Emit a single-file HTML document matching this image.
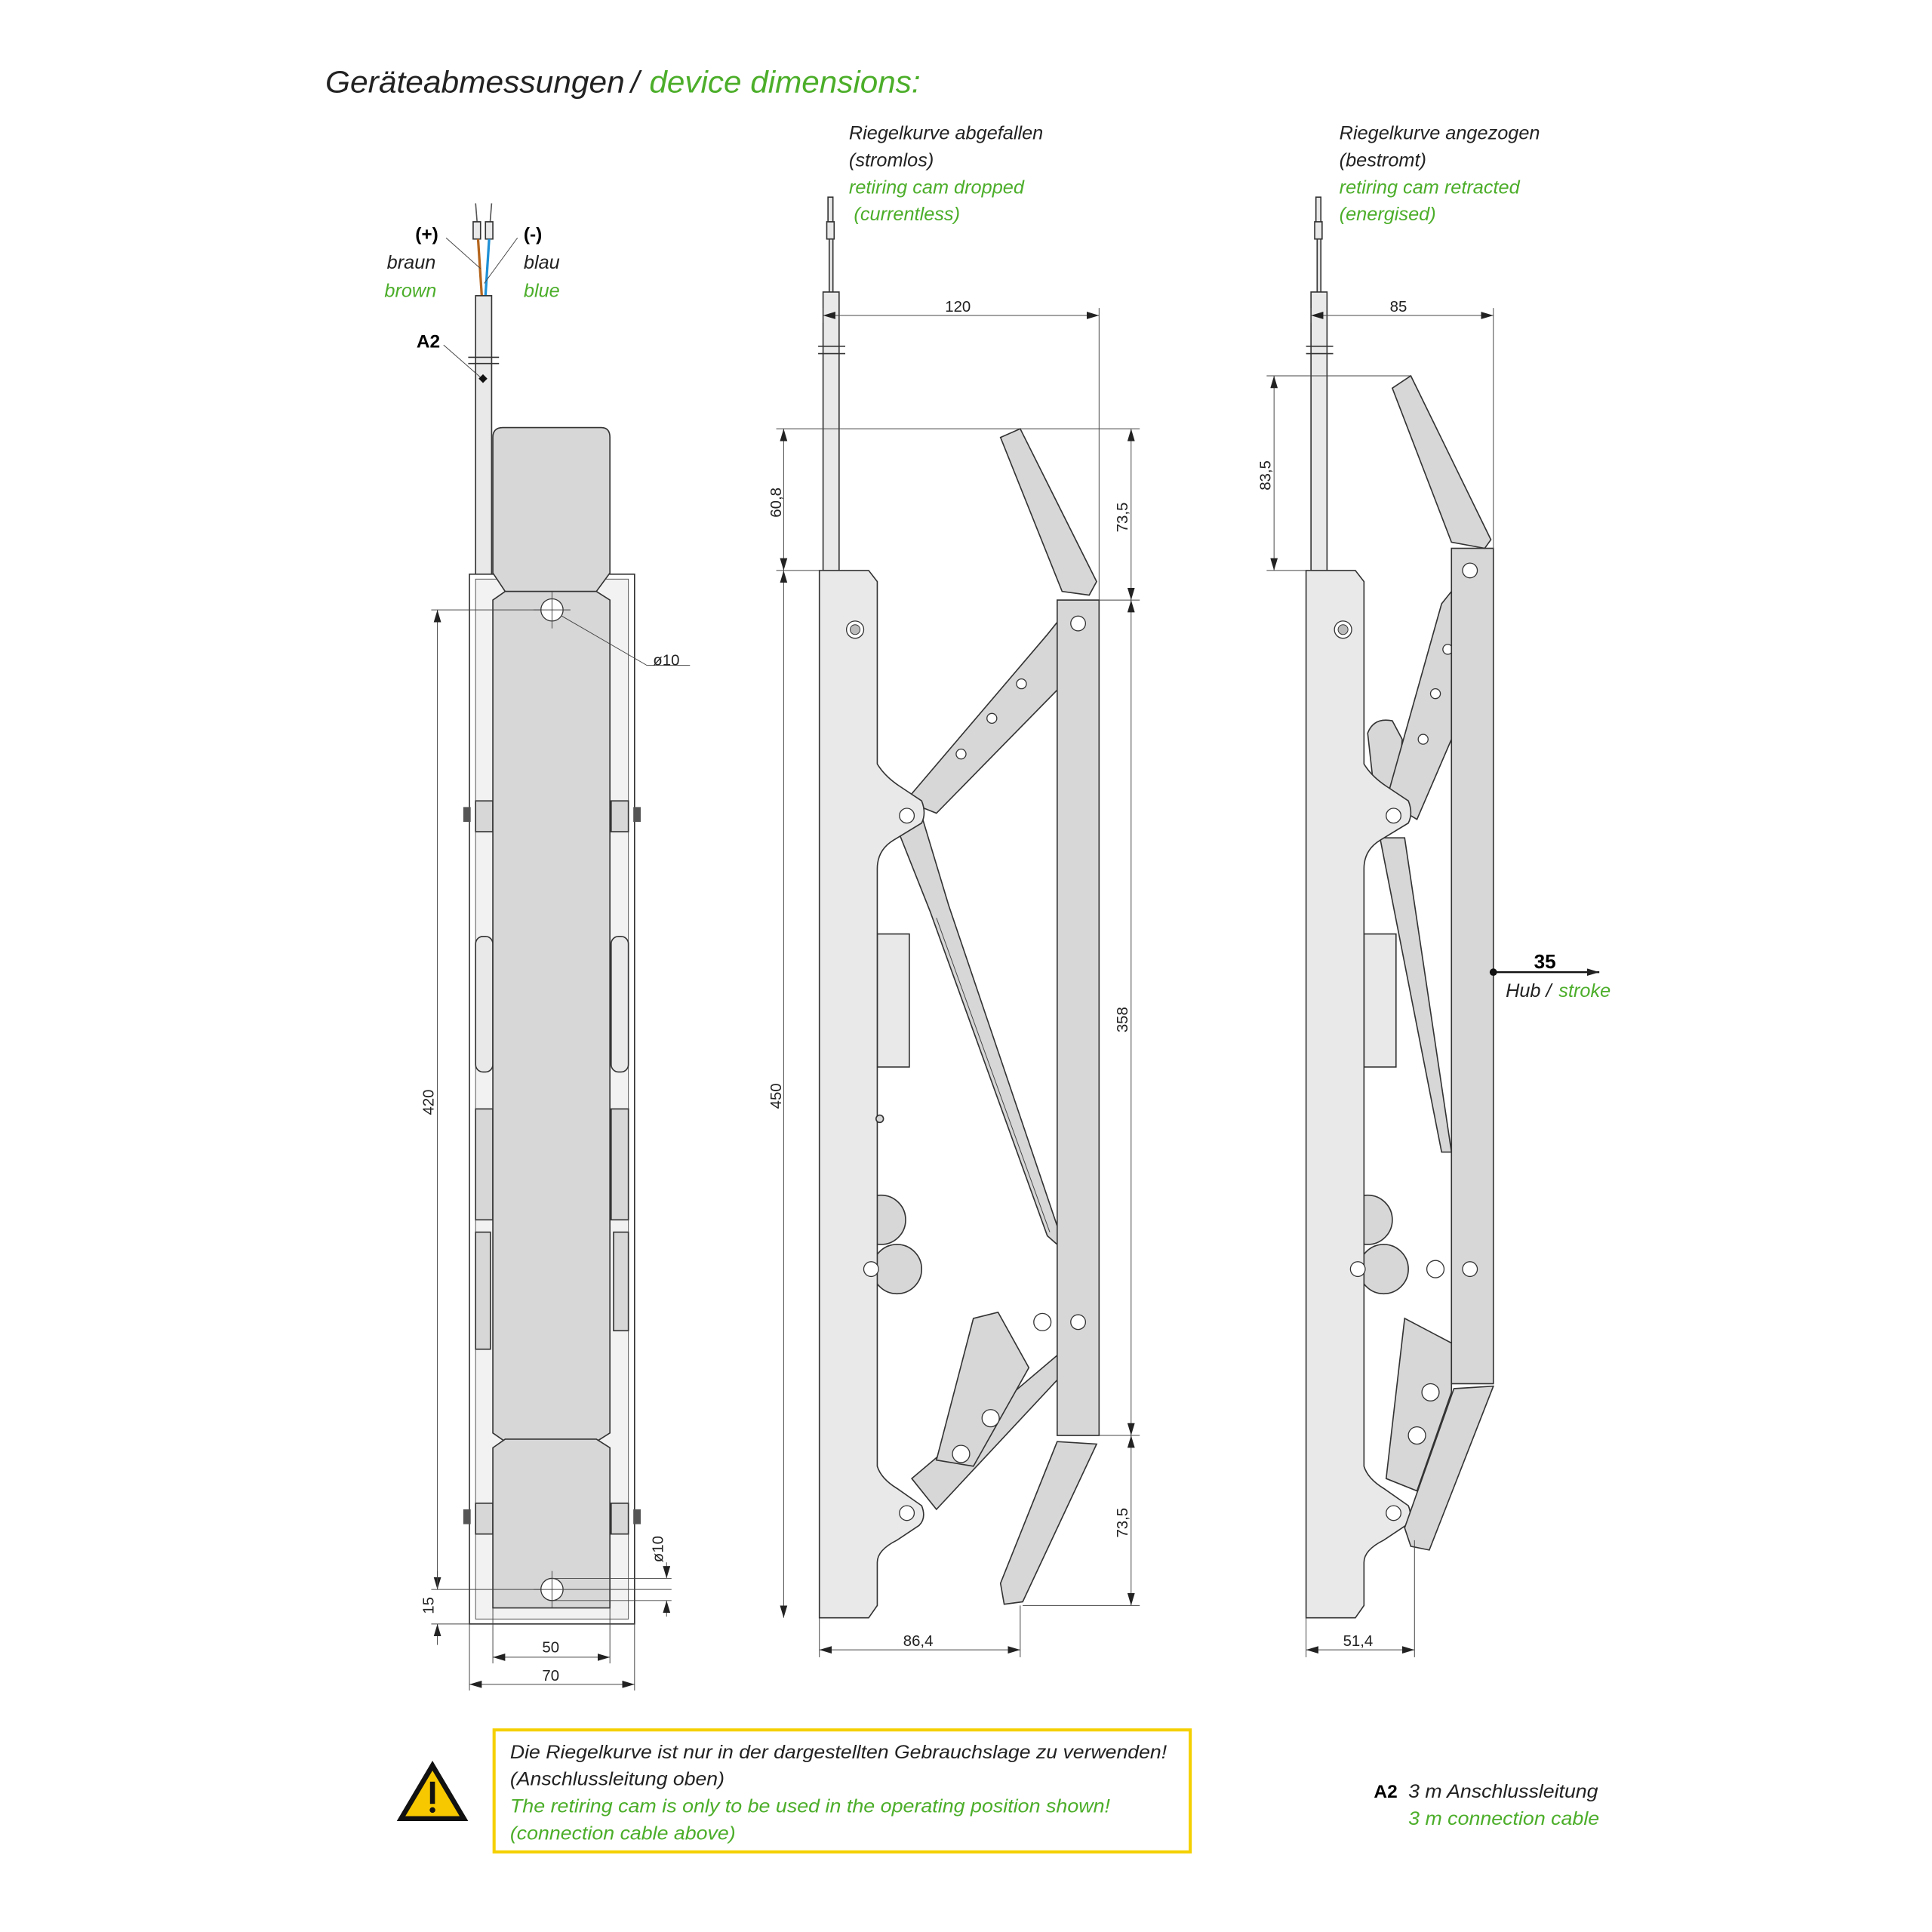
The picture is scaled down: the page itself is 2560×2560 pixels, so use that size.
<!DOCTYPE html>
<html><head><meta charset="utf-8"><style>
html,body{margin:0;padding:0;background:#fff}
svg{display:block}
text{font-family:"Liberation Sans",sans-serif}
.i{font-style:italic;font-size:15.5px;fill:#222}
.g{fill:#4cae2a}
.n{font-size:12.5px;fill:#222}
.p{fill:#e9e9ea;stroke:#333;stroke-width:1}
.d{fill:#d7d7d8;stroke:#333;stroke-width:1}
.m{stroke:#444;stroke-width:.6;fill:none}
.h{fill:#fff;stroke:#333;stroke-width:.8}
</style></head><body>
<svg width="2560" height="2560" viewBox="0 0 1568 1568" xmlns="http://www.w3.org/2000/svg">
<defs>
<marker id="a" viewBox="0 0 10 6" refX="10" refY="3" markerWidth="10" markerHeight="6" orient="auto-start-reverse" markerUnits="userSpaceOnUse"><path d="M0,0L10,3L0,6z" fill="#222"/></marker>
</defs>
<text x="264" y="75" style="font-style:italic;font-size:25px;fill:#222" textLength="243" lengthAdjust="spacingAndGlyphs">Geräteabmessungen</text>
<text x="512" y="75" style="font-style:italic;font-size:25px;fill:#222">/</text>
<text x="527" y="75" class="g" style="font-style:italic;font-size:25px" textLength="220" lengthAdjust="spacingAndGlyphs">device dimensions:</text>

<!-- LEFT VIEW -->
<line x1="386" y1="165" x2="388" y2="190" stroke="#555"/><line x1="399" y1="165" x2="397" y2="190" stroke="#555"/>
<rect x="384" y="180" width="6" height="14" class="p"/><rect x="394" y="180" width="6" height="14" class="p"/>
<line x1="388" y1="194" x2="391" y2="240" stroke="#b5651d" stroke-width="2"/>
<line x1="397" y1="194" x2="394" y2="240" stroke="#1e90d6" stroke-width="2"/>
<rect x="386" y="240" width="13" height="230" class="p"/>
<line x1="380" y1="290" x2="405" y2="290" stroke="#333"/><line x1="380" y1="295" x2="405" y2="295" stroke="#333"/>
<line x1="362" y1="193" x2="390" y2="218" class="m"/><line x1="420" y1="193" x2="393" y2="230" class="m"/>
<line x1="360" y1="280" x2="392" y2="308" class="m"/><rect x="389" y="305" width="5" height="5" transform="rotate(45 392 308)" fill="#111"/>
<text x="337" y="195" style="font-weight:bold;font-size:15px">(+)</text>
<text x="425" y="195" style="font-weight:bold;font-size:15px">(-)</text>
<text x="314" y="218" class="i">braun</text><text x="312" y="241" class="i g">brown</text>
<text x="425" y="218" class="i">blau</text><text x="425" y="241" class="i g">blue</text>
<text x="338" y="282" style="font-weight:bold;font-size:15px">A2</text>
<rect x="381" y="466" width="134" height="852" fill="#fff" stroke="#333"/>
<rect x="386" y="470" width="124" height="844" fill="#f2f2f3" stroke="#555" stroke-width=".6"/>
<rect x="386" y="760" width="14" height="110" class="p" rx="6"/><rect x="496" y="760" width="14" height="110" class="p" rx="6"/>
<rect x="386" y="900" width="14" height="90" class="d"/><rect x="496" y="900" width="14" height="90" class="d"/>
<rect x="386" y="650" width="14" height="25" class="d"/><rect x="496" y="650" width="14" height="25" class="d"/>
<rect x="386" y="1220" width="14" height="25" class="d"/><rect x="496" y="1220" width="14" height="25" class="d"/>
<rect x="376" y="655" width="6" height="12" fill="#555"/><rect x="514" y="655" width="6" height="12" fill="#555"/>
<rect x="376" y="1225" width="6" height="12" fill="#555"/><rect x="514" y="1225" width="6" height="12" fill="#555"/>
<rect x="386" y="1000" width="12" height="95" class="d"/><rect x="498" y="1000" width="12" height="80" class="d"/>
<path d="M400,355 Q400,347 408,347 L488,347 Q495,347 495,355 L495,465 L484,480 L410,480 L400,465Z" class="d"/>
<path d="M400,487 L410,480 L484,480 L495,487 L495,1163 L484,1170 L410,1170 L400,1163Z" class="d"/>
<path d="M400,1175 L410,1168 L484,1168 L495,1175 L495,1305 L400,1305Z" class="d"/>
<circle cx="448" cy="495" r="9" class="h" fill="none"/><line x1="448" y1="480" x2="448" y2="510" class="m"/><line x1="433" y1="495" x2="463" y2="495" class="m"/>
<circle cx="448" cy="1290" r="9" class="h" fill="none"/><line x1="448" y1="1275" x2="448" y2="1305" class="m"/><line x1="433" y1="1290" x2="545" y2="1290" class="m"/>
<line x1="456" y1="500" x2="525" y2="540" class="m"/><line x1="525" y1="540" x2="560" y2="540" class="m"/>
<text x="530" y="540" class="n">ø10</text>
<line x1="448" y1="1281" x2="545" y2="1281" class="m"/><line x1="448" y1="1299" x2="545" y2="1299" class="m"/>
<line x1="541" y1="1268" x2="541" y2="1281" class="m" marker-end="url(#a)"/><line x1="541" y1="1312" x2="541" y2="1299" class="m" marker-end="url(#a)"/>
<text transform="translate(538,1268) rotate(-90)" class="n">ø10</text>
<line x1="350" y1="495" x2="440" y2="495" class="m"/><line x1="350" y1="1290" x2="440" y2="1290" class="m"/><line x1="350" y1="1318" x2="381" y2="1318" class="m"/>
<line x1="355" y1="495" x2="355" y2="1290" class="m" marker-start="url(#a)" marker-end="url(#a)"/>
<line x1="355" y1="1275" x2="355" y2="1290" class="m"/><line x1="355" y1="1335" x2="355" y2="1318" class="m" marker-end="url(#a)"/>
<text transform="translate(352,905) rotate(-90)" class="n">420</text>
<text transform="translate(352,1310) rotate(-90)" class="n">15</text>
<line x1="400" y1="1305" x2="400" y2="1350" class="m"/><line x1="495" y1="1305" x2="495" y2="1350" class="m"/>
<line x1="381" y1="1318" x2="381" y2="1372" class="m"/><line x1="515" y1="1318" x2="515" y2="1372" class="m"/>
<line x1="400" y1="1345" x2="495" y2="1345" class="m" marker-start="url(#a)" marker-end="url(#a)"/>
<line x1="381" y1="1367" x2="515" y2="1367" class="m" marker-start="url(#a)" marker-end="url(#a)"/>
<text x="440" y="1341" class="n">50</text><text x="440" y="1364" class="n">70</text>

<!-- MIDDLE VIEW -->
<text x="689" y="113" class="i">Riegelkurve abgefallen</text>
<text x="689" y="135" class="i">(stromlos)</text>
<text x="689" y="157" class="i g">retiring cam dropped</text>
<text x="693" y="179" class="i g">(currentless)</text>
<rect x="672" y="160" width="4" height="22" class="p"/><rect x="671" y="180" width="6" height="14" class="p"/>
<rect x="673" y="194" width="3" height="44" class="p"/>
<rect x="668" y="237" width="13" height="228" class="p"/>
<line x1="664" y1="281" x2="686" y2="281" stroke="#333"/><line x1="664" y1="287" x2="686" y2="287" stroke="#333"/>
<rect x="712" y="758" width="26" height="108" class="p"/>
<path d="M728,672 L748,662 L770,735 L858,995 L858,1010 L850,1003 L755,740 Z" class="d"/>
<line x1="760" y1="745" x2="852" y2="1000" class="m"/>
<path d="M735,650 L850,515 L858,505 L858,560 L760,660 Z" class="d"/>
<circle cx="805" cy="583" r="4" class="h"/><circle cx="829" cy="555" r="4" class="h"/><circle cx="780" cy="612" r="4" class="h"/>
<path d="M740,1200 L858,1100 L858,1120 L760,1225 Z" class="d"/>
<path d="M760,1185 L790,1070 L810,1065 L835,1110 L790,1190 Z" class="d"/>
<circle cx="780" cy="1180" r="7" class="h"/><circle cx="804" cy="1151" r="7" class="h"/>
<circle cx="728" cy="1030" r="20" class="d"/><circle cx="715" cy="990" r="20" class="d"/>
<path d="M665,463 L705,463 L712,472 L712,620 Q718,630 730,638 L748,650 Q752,660 748,668 L725,682 Q712,690 712,705 L712,1190 Q715,1200 728,1208 L748,1222 Q752,1232 746,1238 L728,1250 Q712,1258 712,1268 L712,1303 L705,1313 L665,1313 Z" class="p"/>
<circle cx="694" cy="511" r="7" class="h"/><circle cx="694" cy="511" r="4" fill="#bbb" stroke="#333" stroke-width=".6"/>
<circle cx="736" cy="662" r="6" class="h"/><circle cx="736" cy="1228" r="6" class="h"/>
<circle cx="707" cy="1030" r="6" class="h"/><circle cx="714" cy="908" r="3" class="d"/>
<rect x="858" y="487" width="34" height="678" class="d"/>
<circle cx="875" cy="506" r="6" class="h"/><circle cx="875" cy="1073" r="6" class="h"/><circle cx="846" cy="1073" r="7" class="h"/>
<path d="M812,355 L828,348 L890,472 L884,483 L862,480 Z" class="d"/>
<path d="M858,1170 L890,1172 L830,1300 L815,1302 L812,1285 Z" class="d"/>
<line x1="668" y1="250" x2="668" y2="262" class="m"/><line x1="892" y1="250" x2="892" y2="487" class="m"/>
<line x1="668" y1="256" x2="892" y2="256" class="m" marker-start="url(#a)" marker-end="url(#a)"/>
<text x="767" y="253" class="n">120</text>
<line x1="630" y1="348" x2="925" y2="348" class="m"/><line x1="630" y1="463" x2="668" y2="463" class="m"/>
<line x1="636" y1="348" x2="636" y2="463" class="m" marker-start="url(#a)" marker-end="url(#a)"/>
<text transform="translate(634,420) rotate(-90)" class="n">60,8</text>
<line x1="636" y1="463" x2="636" y2="1313" class="m" marker-start="url(#a)" marker-end="url(#a)"/>
<text transform="translate(634,900) rotate(-90)" class="n">450</text>
<line x1="892" y1="487" x2="925" y2="487" class="m"/><line x1="892" y1="1165" x2="925" y2="1165" class="m"/><line x1="830" y1="1303" x2="925" y2="1303" class="m"/>
<line x1="918" y1="348" x2="918" y2="487" class="m" marker-start="url(#a)" marker-end="url(#a)"/>
<text transform="translate(915,432) rotate(-90)" class="n">73,5</text>
<line x1="918" y1="487" x2="918" y2="1165" class="m" marker-start="url(#a)" marker-end="url(#a)"/>
<text transform="translate(915,838) rotate(-90)" class="n">358</text>
<line x1="918" y1="1165" x2="918" y2="1303" class="m" marker-start="url(#a)" marker-end="url(#a)"/>
<text transform="translate(915,1248) rotate(-90)" class="n">73,5</text>
<line x1="665" y1="1313" x2="665" y2="1345" class="m"/><line x1="828" y1="1303" x2="828" y2="1345" class="m"/>
<line x1="665" y1="1339" x2="828" y2="1339" class="m" marker-start="url(#a)" marker-end="url(#a)"/>
<text x="733" y="1336" class="n">86,4</text>

<!-- RIGHT VIEW -->
<text x="1087" y="113" class="i">Riegelkurve angezogen</text>
<text x="1087" y="135" class="i">(bestromt)</text>
<text x="1087" y="157" class="i g">retiring cam retracted</text>
<text x="1087" y="179" class="i g">(energised)</text>
<rect x="1068" y="160" width="4" height="22" class="p"/><rect x="1067" y="180" width="6" height="14" class="p"/>
<rect x="1069" y="194" width="3" height="44" class="p"/>
<rect x="1064" y="237" width="13" height="228" class="p"/>
<line x1="1060" y1="281" x2="1082" y2="281" stroke="#333"/><line x1="1060" y1="287" x2="1082" y2="287" stroke="#333"/>
<rect x="1107" y="758" width="26" height="108" class="p"/>
<path d="M1110,595 Q1115,582 1130,585 L1138,600 L1135,640 L1115,640 Z" class="d"/>
<path d="M1120,680 L1140,680 L1178,935 L1170,935 Z" class="d"/>
<path d="M1125,650 L1170,490 L1178,480 L1178,600 L1150,665 Z" class="d"/>
<circle cx="1175" cy="527" r="4" class="h"/><circle cx="1165" cy="563" r="4" class="h"/><circle cx="1155" cy="600" r="4" class="h"/>
<path d="M1125,1200 L1140,1070 L1178,1090 L1178,1130 L1150,1210 Z" class="d"/>
<circle cx="1161" cy="1130" r="7" class="h"/><circle cx="1150" cy="1165" r="7" class="h"/>
<circle cx="1123" cy="1030" r="20" class="d"/><circle cx="1110" cy="990" r="20" class="d"/>
<path d="M1060,463 L1100,463 L1107,472 L1107,620 Q1113,630 1125,638 L1143,650 Q1147,660 1143,668 L1120,682 Q1107,690 1107,705 L1107,1190 Q1110,1200 1123,1208 L1143,1222 Q1147,1232 1141,1238 L1123,1250 Q1107,1258 1107,1268 L1107,1303 L1100,1313 L1060,1313 Z" class="p"/>
<circle cx="1090" cy="511" r="7" class="h"/><circle cx="1090" cy="511" r="4" fill="#bbb" stroke="#333" stroke-width=".6"/>
<circle cx="1131" cy="662" r="6" class="h"/><circle cx="1131" cy="1228" r="6" class="h"/>
<circle cx="1102" cy="1030" r="6" class="h"/>
<rect x="1178" y="445" width="34" height="678" class="d"/>
<circle cx="1193" cy="463" r="6" class="h"/><circle cx="1193" cy="1030" r="6" class="h"/><circle cx="1165" cy="1030" r="7" class="h"/>
<path d="M1130,315 L1145,305 L1210,438 L1205,445 L1178,440 Z" class="d"/>
<path d="M1180,1127 L1212,1125 L1160,1258 L1145,1255 L1140,1240 Z" class="d"/>
<line x1="1064" y1="250" x2="1064" y2="262" class="m"/><line x1="1212" y1="250" x2="1212" y2="445" class="m"/>
<line x1="1064" y1="256" x2="1212" y2="256" class="m" marker-start="url(#a)" marker-end="url(#a)"/>
<text x="1128" y="253" class="n">85</text>
<line x1="1028" y1="305" x2="1145" y2="305" class="m"/><line x1="1028" y1="463" x2="1064" y2="463" class="m"/>
<line x1="1034" y1="305" x2="1034" y2="463" class="m" marker-start="url(#a)" marker-end="url(#a)"/>
<text transform="translate(1031,398) rotate(-90)" class="n">83,5</text>
<line x1="1060" y1="1313" x2="1060" y2="1345" class="m"/><line x1="1148" y1="1250" x2="1148" y2="1345" class="m"/>
<line x1="1060" y1="1339" x2="1148" y2="1339" class="m" marker-start="url(#a)" marker-end="url(#a)"/>
<text x="1090" y="1336" class="n">51,4</text>
<circle cx="1212" cy="789" r="3" fill="#111"/>
<line x1="1212" y1="789" x2="1298" y2="789" stroke="#111" stroke-width="1.5" marker-end="url(#a)"/>
<text x="1245" y="786" style="font-weight:bold;font-size:16px">35</text>
<text x="1222" y="809" class="i">Hub /</text><text x="1265" y="809" class="i g">stroke</text>

<!-- WARNING -->
<path d="M351,1429 L380,1478 L322,1478 Z" fill="#111"/>
<path d="M351,1437 L373,1474 L329,1474 Z" fill="#f7c800"/>
<rect x="349" y="1446" width="4" height="18" fill="#111"/><circle cx="351" cy="1469" r="2.3" fill="#111"/>
<rect x="401" y="1404" width="565" height="99" fill="none" stroke="#f5d000" stroke-width="2.5"/>
<text x="414" y="1427" class="i" textLength="533" lengthAdjust="spacingAndGlyphs">Die Riegelkurve ist nur in der dargestellten Gebrauchslage zu verwenden!</text>
<text x="414" y="1449" class="i" textLength="174" lengthAdjust="spacingAndGlyphs">(Anschlussleitung oben)</text>
<text x="414" y="1471" class="i g" textLength="487" lengthAdjust="spacingAndGlyphs">The retiring cam is only to be used in the operating position shown!</text>
<text x="414" y="1493" class="i g" textLength="183" lengthAdjust="spacingAndGlyphs">(connection cable above)</text>
<text x="1115" y="1459" style="font-weight:bold;font-size:15px">A2</text>
<text x="1143" y="1459" class="i" textLength="154" lengthAdjust="spacingAndGlyphs">3 m Anschlussleitung</text>
<text x="1143" y="1481" class="i g" textLength="155" lengthAdjust="spacingAndGlyphs">3 m connection cable</text>
</svg>
</body></html>
